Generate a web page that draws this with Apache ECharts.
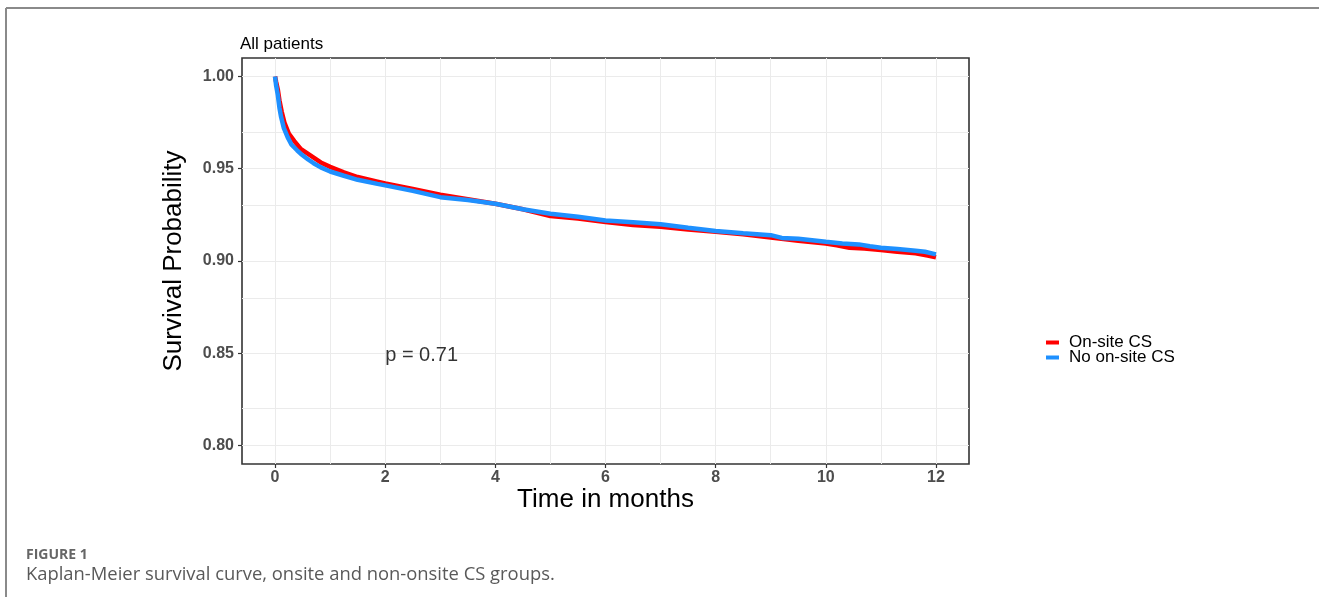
<!DOCTYPE html>
<html><head><meta charset="utf-8">
<script src="https://cdn.jsdelivr.net/npm/echarts@6/dist/echarts.min.js"></script>
<style>html,body{margin:0;padding:0;background:#fff}#c{width:1319px;height:597px}</style>
</head><body><div id="c"></div>
<script>
// ---- Data ----
const seriesNames = ['On-site CS', 'No on-site CS'];
const timeOnsite = [0, 0.02, 0.05, 0.08, 0.12, 0.17, 0.25, 0.35, 0.47, 0.6, 0.83, 1.0, 1.25, 1.5, 1.86, 2.0, 2.5, 3.0, 3.5, 4.0, 4.5, 5.0, 5.5, 6.0, 6.5, 7.0, 7.5, 8.0, 8.5, 9.0, 9.5, 10.0, 10.2, 10.43, 10.7, 11.0, 11.3, 11.63, 11.85, 12.0];
const survOnsite = [1.000, 0.997, 0.993, 0.987, 0.981, 0.975, 0.969, 0.965, 0.9606, 0.958, 0.9534, 0.951, 0.948, 0.9455, 0.943, 0.942, 0.939, 0.9359, 0.9335, 0.931, 0.928, 0.9244, 0.923, 0.9211, 0.9195, 0.9185, 0.917, 0.9158, 0.9145, 0.9127, 0.911, 0.9095, 0.9085, 0.9072, 0.9068, 0.906, 0.905, 0.9042, 0.903, 0.902];
const timeNoOnsite = [0, 0.02, 0.05, 0.08, 0.11, 0.16, 0.23, 0.3, 0.4, 0.47, 0.6, 0.7, 0.83, 1.0, 1.25, 1.5, 1.86, 2.0, 2.5, 3.0, 3.5, 4.0, 4.5, 5.0, 5.5, 6.0, 6.5, 7.0, 7.5, 8.0, 8.5, 9.0, 9.2, 9.5, 10.0, 10.3, 10.6, 10.8, 11.0, 11.3, 11.63, 11.8, 12.0];
const survNoOnsite = [1.000, 0.995, 0.990, 0.983, 0.978, 0.972, 0.967, 0.963, 0.960, 0.958, 0.955, 0.953, 0.9507, 0.9485, 0.9462, 0.944, 0.9418, 0.941, 0.938, 0.9346, 0.933, 0.931, 0.928, 0.9256, 0.924, 0.922, 0.921, 0.9199, 0.918, 0.9163, 0.915, 0.914, 0.9125, 0.912, 0.9104, 0.9095, 0.909, 0.908, 0.9072, 0.9065, 0.9056, 0.905, 0.9036];
const xTicks = [0, 2, 4, 6, 8, 10, 12];
const yTicks = [0.80, 0.85, 0.90, 0.95, 1.00];
const xMinor = [1, 3, 5, 7, 9, 11];
const yMinor = [0.825, 0.875, 0.925, 0.975];
const pValueText = 'p = 0.71';
const pValuePos = [2, 0.85];
const titleText = 'All patients';
const xTitle = 'Time in months';
const yTitle = 'Survival Probability';
const figLabel = 'FIGURE 1';
const figCaption = 'Kaplan-Meier survival curve, onsite and non-onsite CS groups.';

// ---- Build ----
const zip = (xs, ys) => xs.map((x, i) => [x, ys[i]]);
const FONT = "'Liberation Sans', Arial, sans-serif";
const gridLines = [
  ...xTicks.map(v => ({ xAxis: v })),
  ...xMinor.map(v => ({ xAxis: v })),
  ...yTicks.map(v => ({ yAxis: v })),
  ...yMinor.map(v => ({ yAxis: v }))
];

const chart = echarts.init(document.getElementById('c'), null, { renderer: 'canvas' });
chart.setOption({
  animation: false,
  backgroundColor: '#fff',
  title: {
    text: titleText, left: 235, top: 31,
    textStyle: { fontFamily: FONT, fontSize: 17, fontWeight: 'normal', color: '#000' }
  },
  legend: {
    orient: 'vertical', left: 1041, top: 329,
    itemWidth: 13, itemHeight: 4, itemGap: -2, icon: 'rect',
    data: seriesNames,
    textStyle: { fontFamily: FONT, fontSize: 17, color: '#000', padding: [0, 0, 0, 5] }
  },
  grid: {
    left: 242, right: 350, top: 58, bottom: 133,
    show: true, borderColor: '#333', borderWidth: 1.6, backgroundColor: 'transparent'
  },
  xAxis: {
    type: 'value', min: -0.6, max: 12.6,
    name: xTitle, nameLocation: 'middle', nameGap: 23, nameMoveOverlap: false,
    nameTextStyle: { fontFamily: FONT, fontSize: 26, color: '#000' },
    axisLine: { show: false, onZero: false },
    axisTick: { show: true, length: 4, lineStyle: { color: '#333', width: 1.2 }, customValues: xTicks },
    axisLabel: { customValues: xTicks, margin: 6, fontFamily: FONT, fontSize: 16, fontWeight: 'bold', color: '#4D4D4D' },
    splitLine: { show: false }
  },
  yAxis: {
    type: 'value', min: 0.79, max: 1.01,
    name: yTitle, nameLocation: 'middle', nameGap: 55, nameMoveOverlap: false,
    nameTextStyle: { fontFamily: FONT, fontSize: 26, color: '#000' },
    axisLine: { show: false, onZero: false },
    axisTick: { show: true, length: 4, lineStyle: { color: '#333', width: 1.2 }, customValues: yTicks },
    axisLabel: { customValues: yTicks, margin: 8, fontFamily: FONT, fontSize: 16, fontWeight: 'bold', color: '#4D4D4D',
      formatter: v => v.toFixed(2) },
    splitLine: { show: false }
  },
  series: [
    {
      type: 'line', name: '_grid', data: [], z: 0, silent: true,
      markLine: { silent: true, z: 0, symbol: 'none', animation: false, label: { show: false },
        lineStyle: { color: '#EBEBEB', width: 1, type: 'solid' }, emphasis: { disabled: true },
        data: gridLines }
    },
    {
      type: 'line', name: seriesNames[0], data: zip(timeOnsite, survOnsite),
      showSymbol: false, symbol: 'none', z: 3,
      lineStyle: { color: '#FF0000', width: 4.5 }, itemStyle: { color: '#FF0000' }
    },
    {
      type: 'line', name: seriesNames[1], data: zip(timeNoOnsite, survNoOnsite),
      showSymbol: false, symbol: 'none', z: 4,
      lineStyle: { color: '#1E90FF', width: 4.5 }, itemStyle: { color: '#1E90FF' }
    },
    {
      type: 'scatter', name: '_p', data: [pValuePos], symbolSize: 0, silent: true, z: 5,
      label: { show: true, position: 'right', distance: 0, offset: [0, 2], formatter: pValueText,
        fontFamily: FONT, fontSize: 20, color: '#000' }
    }
  ],
  graphic: [
    { type: 'line', shape: { x1: 6, y1: 8, x2: 1319, y2: 8 }, style: { stroke: '#8a8a8a', lineWidth: 2 }, silent: true },
    { type: 'line', shape: { x1: 6, y1: 8, x2: 6, y2: 597 }, style: { stroke: '#8a8a8a', lineWidth: 2 }, silent: true },
    { type: 'text', left: 26, top: 548, style: { text: figLabel, font: "bold 14px 'Open Sans', sans-serif", fill: '#666' } },
    { type: 'text', left: 26, top: 566, style: { text: figCaption, font: "18.4px 'Open Sans', sans-serif", fill: '#595959' } }
  ]
});
</script>
</body></html>
